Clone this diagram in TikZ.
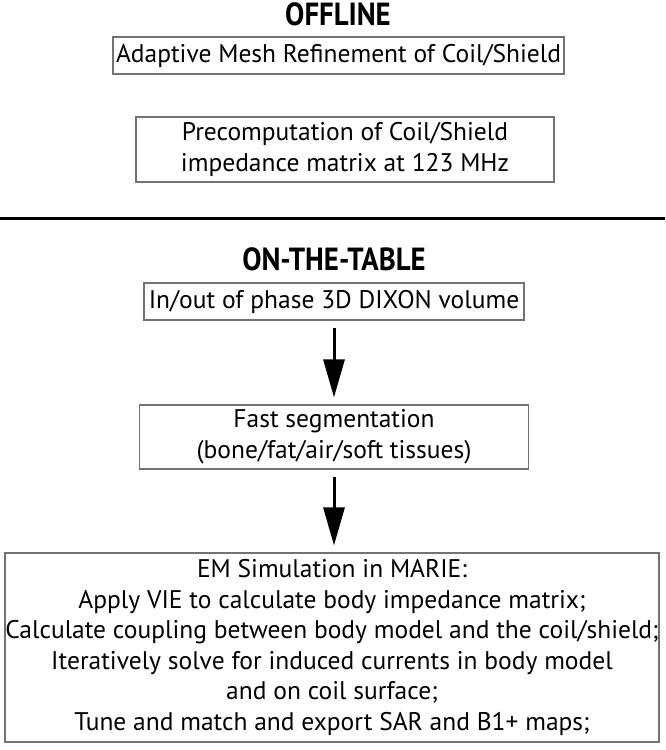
\documentclass[tikz,border=0pt]{standalone}
\usepackage{fontspec}
\setmainfont{PT Sans}
\newfontfamily\headfont[FakeStretch=0.9]{PT Sans}
\usetikzlibrary{positioning}
\usetikzlibrary{arrows.meta}

\tikzset{
  stagebox/.style={draw=black!55, line width=1.2pt, inner sep=0pt, align=center,
    font=\fontsize{25.5}{30.5}\selectfont},
  stagehead/.style={font=\headfont\bfseries\fontsize{32}{36}\selectfont},
  flow/.style={line width=3pt, -{Triangle[length=38pt,width=21pt]},
    shorten <=7pt, shorten >=7pt}
}

\begin{document}
\begin{tikzpicture}[x=1pt, y=-1pt]
  \useasboundingbox (0,0) rectangle (665,750);

  \node[stagehead] (offline) at (338,14) {OFFLINE};
  \node[stagebox, minimum width=451pt, minimum height=37pt] (amr) at (338.5,55.5)
    {Adaptive Mesh Refinement of Coil/Shield};
  \node[stagebox, minimum width=418pt, minimum height=65pt] (precomp) at (345,149.5)
    {Precomputation of Coil/Shield\\impedance matrix at 123 MHz};

  \coordinate (sepl) at (0,218);
  \coordinate (sepr) at (665,218);
  \draw[line width=3pt] (sepl) -- (sepr);

  \node[stagehead] (onthetable) at (334,259.5) {ON-THE-TABLE};
  \node[stagebox, minimum width=380pt, minimum height=37pt] (dixon) at (334,301.5)
    {In/out of phase 3D DIXON volume};
  \node[stagebox, minimum width=389pt, minimum height=64pt] (seg) at (334,437)
    {Fast segmentation\\(bone/fat/air/soft tissues)};
  \node[stagebox, minimum width=654pt, minimum height=189pt] (marie) at (332,647.5)
    {EM Simulation in MARIE:\\
     Apply VIE to calculate body impedance matrix;\\
     Calculate coupling between body model and the coil/shield;\\
     Iteratively solve for induced currents in body model\\
     and on coil surface;\\
     Tune and match and export SAR and B1+ maps;};

  \foreach \a/\b in {dixon/seg, seg/marie}
    {\draw[flow] (\a.south) -- (\a.south |- \b.north);}
\end{tikzpicture}
\end{document}
